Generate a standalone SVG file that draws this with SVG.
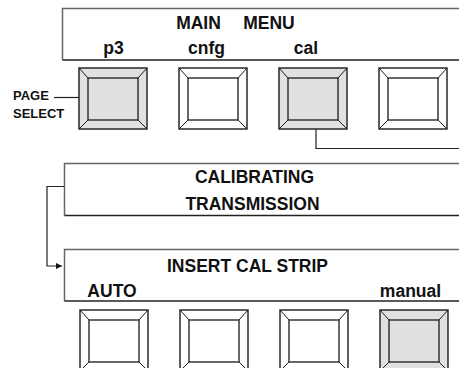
<svg xmlns="http://www.w3.org/2000/svg" width="459" height="368" viewBox="0 0 459 368">
<style>
  text{font-family:"Liberation Sans",Arial,sans-serif;font-weight:bold;fill:#111}
  .t{font-size:17.5px}
  .s{font-size:13px}
  .mid{text-anchor:middle}
  .pfill{fill:#fff;stroke:none}
  .pedge{stroke:#666;stroke-width:1.5;fill:none}
  .pbot{stroke:#222;stroke-width:1.5;fill:none}
  .bo{stroke:#1a1a1a;stroke-width:1.4}
  .bi{stroke:#1a1a1a;stroke-width:1.3}
  .bd{stroke:#1a1a1a;stroke-width:1}
  .on{fill:#e0e0e0}
  .off{fill:#fff}
  .conn{stroke:#222;stroke-width:1.2;fill:none}
</style>
<defs>
  <marker id="arr" markerWidth="8" markerHeight="8" refX="6" refY="3" orient="auto" markerUnits="userSpaceOnUse">
    <path d="M0,0 L6,3 L0,6 Z" fill="#111"/>
  </marker>
  <g id="bevel">
    <line class="bd" x1="0" y1="0" x2="9" y2="10"/>
    <line class="bd" x1="68" y1="0" x2="59" y2="10"/>
    <line class="bd" x1="0" y1="61" x2="9" y2="52"/>
    <line class="bd" x1="68" y1="61" x2="59" y2="52"/>
  </g>
</defs>

<!-- Top panel: MAIN MENU -->
<g id="panel-main-menu">
  <rect class="pfill" x="62" y="8.5" width="400" height="51.5"/>
  <path class="pedge" d="M462,8.5 H62.5 V60"/>
  <path class="pbot" d="M62.5,60 H462"/>
  <text class="t mid" x="198.5" y="28.5">MAIN</text>
  <text class="t mid" x="269" y="28.5">MENU</text>
  <text class="t mid" x="113.5" y="53.5">p3</text>
  <text class="t mid" x="206.5" y="53.5">cnfg</text>
  <text class="t mid" x="306" y="53.5">cal</text>
</g>

<!-- Page select label -->
<g id="label-page-select">
  <text class="s" x="13" y="100">PAGE</text>
  <text class="s" x="13" y="117.5">SELECT</text>
  <line class="conn" x1="54" y1="97.5" x2="79" y2="97.5"/>
</g>

<!-- Row 1 buttons -->
<g id="btn-p3" transform="translate(79,68)">
  <rect class="bo on" x="0" y="0" width="68" height="61"/>
  <rect class="bi on" x="9" y="10" width="50" height="42"/>
  <use href="#bevel"/>
</g>
<g id="btn-cnfg" transform="translate(179,68)">
  <rect class="bo off" x="0" y="0" width="68" height="61"/>
  <rect class="bi off" x="9" y="10" width="50" height="42"/>
  <use href="#bevel"/>
</g>
<g id="btn-cal" transform="translate(279,68)">
  <rect class="bo on" x="0" y="0" width="68" height="61"/>
  <rect class="bi on" x="9" y="10" width="50" height="42"/>
  <use href="#bevel"/>
</g>
<g id="btn-4" transform="translate(379,68)">
  <rect class="bo off" x="0" y="0" width="68" height="61"/>
  <rect class="bi off" x="9" y="10" width="50" height="42"/>
  <use href="#bevel"/>
</g>

<!-- Calibrating panel -->
<g id="panel-calibrating">
  <rect class="pfill" x="64" y="163.5" width="400" height="52"/>
  <path class="pedge" d="M462,163.5 H64.5 V215.5"/>
  <path class="pbot" d="M64.5,215.5 H462"/>
  <text class="t mid" x="254.5" y="182.5">CALIBRATING</text>
  <text class="t mid" x="252.5" y="210">TRANSMISSION</text>
</g>

<!-- Insert cal strip panel -->
<g id="panel-insert-cal-strip">
  <rect class="pfill" x="64" y="249.5" width="400" height="51.5"/>
  <path class="pedge" d="M462,249.5 H64.5 V301"/>
  <path class="pbot" d="M64.5,301 H462"/>
  <text class="t mid" x="247.5" y="271.5">INSERT CAL STRIP</text>
  <text class="t mid" x="112" y="296.5">AUTO</text>
  <text class="t mid" x="410.5" y="296.5">manual</text>
</g>

<!-- Row 2 buttons -->
<g id="btn-auto" transform="translate(80,310)">
  <rect class="bo off" x="0" y="0" width="68" height="61"/>
  <rect class="bi off" x="9" y="10" width="50" height="42"/>
  <use href="#bevel"/>
</g>
<g id="btn-b2" transform="translate(180,310)">
  <rect class="bo off" x="0" y="0" width="68" height="61"/>
  <rect class="bi off" x="9" y="10" width="50" height="42"/>
  <use href="#bevel"/>
</g>
<g id="btn-b3" transform="translate(280,310)">
  <rect class="bo off" x="0" y="0" width="68" height="61"/>
  <rect class="bi off" x="9" y="10" width="50" height="42"/>
  <use href="#bevel"/>
</g>
<g id="btn-manual" transform="translate(380,310)">
  <rect class="bo on" x="0" y="0" width="68" height="61"/>
  <rect class="bi on" x="9" y="10" width="50" height="42"/>
  <use href="#bevel"/>
</g>

<!-- Connectors -->
<g id="connectors">
  <path class="conn" d="M316,129 V148.5 H462"/>
  <path class="conn" d="M64,186.5 H47 V266 H62" marker-end="url(#arr)"/>
</g>
</svg>
